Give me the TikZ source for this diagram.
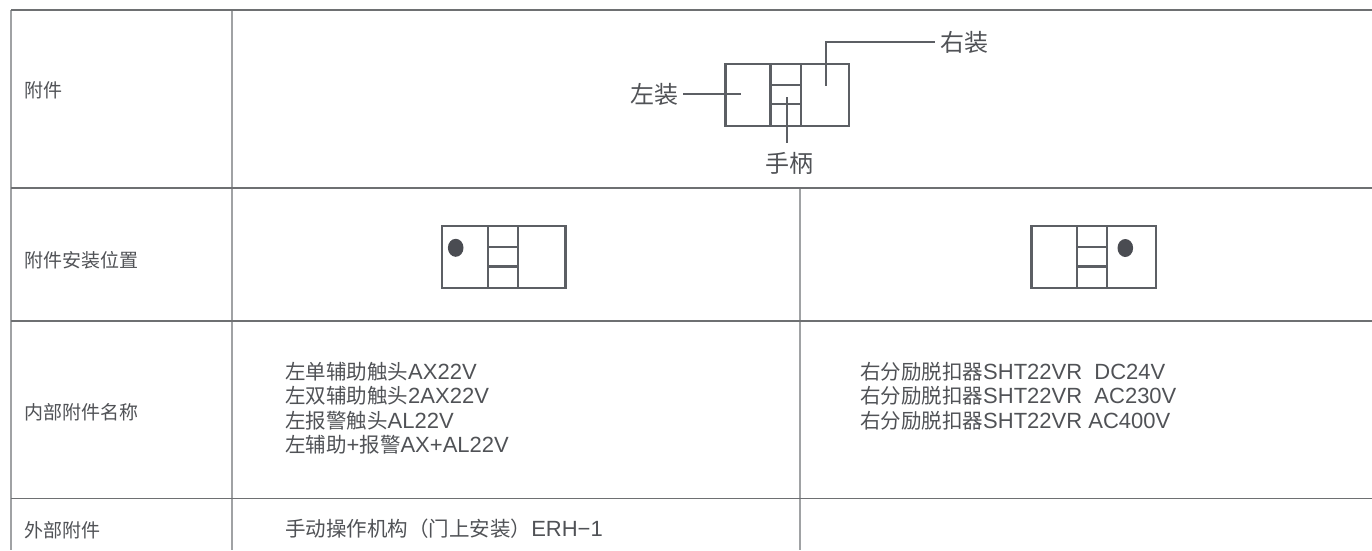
\documentclass[tikz,border=0pt]{standalone}
\usepackage{fontspec}
\setmainfont{Liberation Sans}
\newfontfamily\cjk{Noto Sans CJK SC}
\newfontfamily\cjks{Noto Sans CJK SC}[Scale=0.932]
\definecolor{hrule}{RGB}{110,112,114}
\definecolor{vrule}{RGB}{160,162,164}
\definecolor{ink}{RGB}{92,95,100}
\definecolor{dotc}{RGB}{74,76,82}
\definecolor{txt}{RGB}{80,82,86}
\tikzset{
  hline/.style={draw=hrule,line width=1.3pt},
  vline/.style={draw=vrule,line width=1.3pt},
  sym/.style={draw=ink,line width=2.5pt},
  lead/.style={draw=ink,line width=2.5pt},
  small/.style={font=\fontsize{19}{22}\selectfont,text=txt,anchor=west,inner sep=0pt},
  big/.style={font=\cjk\fontsize{24}{26}\selectfont,text=txt,inner sep=0pt},
  cell/.style={font=\fontsize{22}{24.4}\selectfont,text=txt,anchor=north west,inner sep=0pt,align=left},
}
\begin{document}
\begin{tikzpicture}[x=1pt,y=-1pt]
\useasboundingbox (0,0) rectangle (1372,550);
% table
\coordinate (tl) at (11,10); \coordinate (tr) at (1372,10);
\coordinate (al) at (11,188); \coordinate (ar) at (1372,188);
\coordinate (bl) at (11,321); \coordinate (br) at (1372,321);
\coordinate (cl) at (11,498.5); \coordinate (cr) at (1372,498.5);
\coordinate (lb) at (11,550); \coordinate (mt) at (232,10); \coordinate (mb) at (232,550);
\coordinate (rt) at (800,188); \coordinate (rb) at (800,550);
\draw[vline] (tl)--(lb) (mt)--(mb) (rt)--(rb);
\draw[hline] (tl)--(tr) (al)--(ar) (bl)--(br) (cl)--(cr);
% first column
\node[small] (c1) at (24,90) {\cjk 附件};
\node[small] (c2) at (24,260) {\cjk 附件安装位置};
\node[small] (c3) at (24,412) {\cjk 内部附件名称};
\node[small] (c4) at (24,530) {\cjk 外部附件};
% main symbol
\node[big] (lz) at (654,94) {左装};
\node[big] (rz) at (964,42) {右装};
\node[big] (sb) at (789,163) {手柄};
\draw[sym] (725.3,63.8) rectangle (849,126);
\draw[sym] (770.5,63.8)--(770.5,126) (801,63.8)--(801,126) (770.5,85)--(801,85) (770.5,104)--(801,104);
\coordinate (lend) at (741,94); \coordinate (rend) at (826,86); \coordinate (hend) at (787,97);
\draw[lead] (lz.east)++(5,0) -- (lend);
\draw[lead] (rz.west)++(-5,0) -| (rend);
\draw[lead] (sb.north)++(-2,-9) -- (hend);
% left position symbol
\draw[sym] (442.2,226) rectangle (565.7,288);
\draw[sym] (488,226)--(488,288) (518,226)--(518,288) (488,247)--(518,247) (488,266.7)--(518,266.7);
\fill[dotc] (455.7,247.8) ellipse [x radius=7.8,y radius=9];
% right position symbol
\draw[sym] (1031.3,226) rectangle (1156,288);
\draw[sym] (1077,226)--(1077,288) (1107,226)--(1107,288) (1077,247)--(1107,247) (1077,266.7)--(1107,266.7);
\fill[dotc] (1125.3,248) ellipse [x radius=7.8,y radius=9];
% lists
\node[cell] (l1) at (285,362) {{\cjks 左单辅助触头}AX22V\\{\cjks 左双辅助触头}2AX22V\\{\cjks 左报警触头}AL22V\\{\cjks 左辅助}+{\cjks 报警}AX+AL22V};
\node[cell] (l2) at (860,362) {{\cjks 右分励脱扣器}SHT22VR\ \ DC24V\\{\cjks 右分励脱扣器}SHT22VR\ \ AC230V\\{\cjks 右分励脱扣器}SHT22VR AC400V};
\node[cell,anchor=west] (l3) at (285,529) {{\cjks 手动操作机构（门上安装）}ERH\textminus 1};
\end{tikzpicture}
\end{document}
